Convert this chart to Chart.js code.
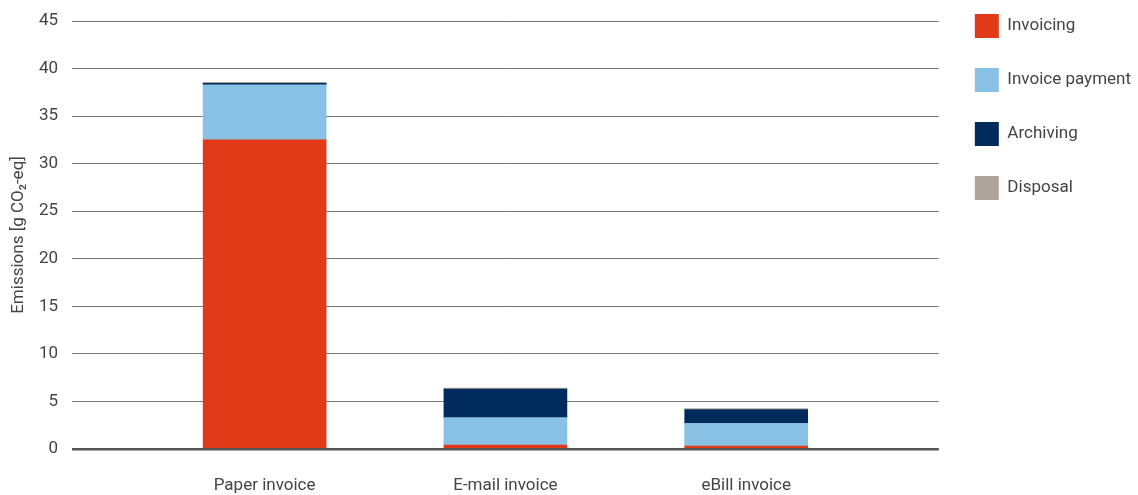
<!DOCTYPE html>
<html>
<head>
<meta charset="utf-8">
<script src="https://cdn.jsdelivr.net/npm/chart.js@4/dist/chart.umd.min.js"></script>
<style>
html,body{margin:0;padding:0;background:#fff;}
#wrap{width:1138px;height:495px;position:relative;}
</style>
</head>
<body>
<div id="wrap"><canvas id="c" width="1138" height="495"></canvas></div>
<script>
const categories = ['Paper invoice', 'E-mail invoice', 'eBill invoice'];
const seriesNames = ['Invoicing', 'Invoice payment', 'Archiving', 'Disposal'];
const invoicing = [32.5, 0.4, 0.3];
const invoicePayment = [5.8, 2.9, 2.4];
const archiving = [0.15, 3.0, 1.45];
const disposal = [0.1, 0.1, 0.1];
const yTicks = [0, 5, 10, 15, 20, 25, 30, 35, 40, 45];
const colors = ['#E03A19', '#88C1E4', '#002B5C', '#AEA49A'];

const FONT = "'Roboto', sans-serif";
const seriesValues = [invoicing, invoicePayment, archiving, disposal];

const datasets = seriesNames.map((name, i) => ({
  label: name,
  data: seriesValues[i].map((v, j) => ({x: j, y: v})),
  backgroundColor: colors[i],
  borderWidth: 0,
  barThickness: 123
}));

const legendShift = {
  id: 'legendShift',
  afterUpdate(chart) {
    const lg = chart.legend;
    if (!lg) return;
    lg.top -= 37; lg.bottom -= 37;
    lg.left += 6; lg.right += 6;
    lg.adjustHitBoxes && lg.adjustHitBoxes();
  }
};

new Chart(document.getElementById('c'), {
  type: 'bar',
  data: {datasets},
  plugins: [legendShift],
  options: {
    responsive: false,
    animation: false,
    layout: {padding: {top: 21, right: 3, left: 9, bottom: 0}},
    plugins: {
      tooltip: {enabled: false},
      legend: {
        position: 'right',
        align: 'start',
        labels: {
          boxWidth: 24,
          boxHeight: 24,
          padding: 30,
          color: '#444',
          font: {family: FONT, size: 17}
        }
      }
    },
    scales: {
      x: {
        type: 'linear',
        stacked: true,
        offset: false,
        min: -0.8,
        max: 2.8,
        afterBuildTicks: (s) => { s.ticks = categories.map((c, i) => ({value: i})); },
        afterFit: (s) => { s.height = 46; s.paddingLeft = 0; s.paddingRight = 0; },
        ticks: {
          callback: (v) => categories[v] ?? '',
          color: '#444',
          font: {family: FONT, size: 17},
          padding: 27,
          autoSkip: false,
          maxRotation: 0
        },
        grid: {display: false, drawTicks: false},
        border: {display: false}
      },
      y: {
        stacked: true,
        min: 0,
        max: 45,
        afterBuildTicks: (s) => { s.ticks = yTicks.map(v => ({value: v})); },
        afterFit: (s) => { s.width = 63; s.paddingTop = 0; s.paddingBottom = 0; },
        ticks: {
          color: '#444',
          font: {family: FONT, size: 17},
          padding: 14
        },
        grid: {
          drawTicks: false,
          color: (ctx) => ctx.tick && ctx.tick.value === 0 ? '#555' : '#777',
          lineWidth: (ctx) => ctx.tick && ctx.tick.value === 0 ? 2.5 : 1
        },
        border: {display: false},
        title: {
          display: true,
          text: 'Emissions [g CO₂-eq]',
          color: '#444',
          font: {family: FONT, size: 17},
          padding: {top: 0, bottom: 2}
        }
      }
    }
  }
});
</script>
</body>
</html>
